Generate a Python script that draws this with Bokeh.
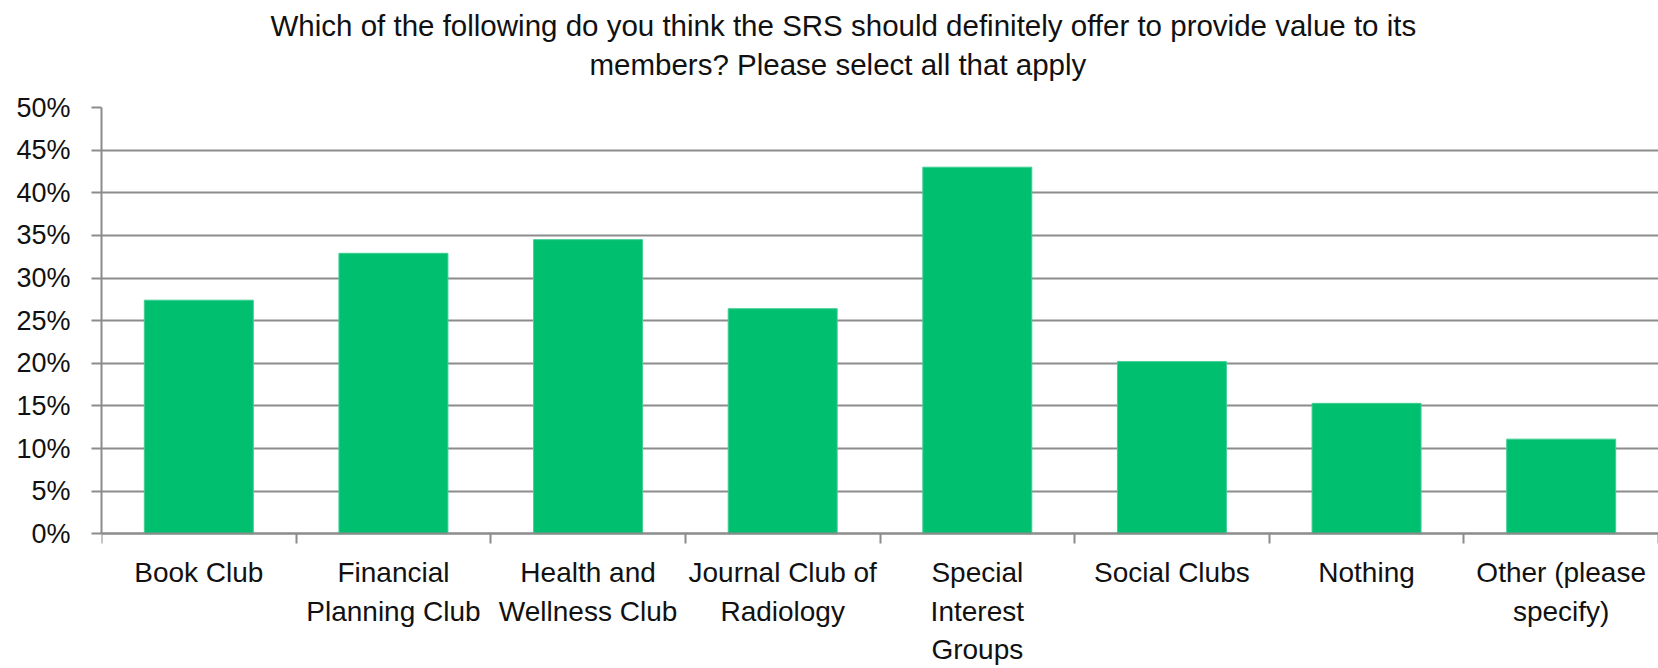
from bokeh.plotting import figure
from bokeh.models import Range1d, FixedTicker, NumeralTickFormatter, Title, ColumnDataSource
from bokeh.embed import file_html
from bokeh.resources import INLINE

categories = ["Book Club", "Financial Planning Club", "Health and Wellness Club",
              "Journal Club of Radiology", "Special Interest Groups", "Social Clubs",
              "Nothing", "Other (please specify)"]
tick_labels = ["Book Club", "Financial\nPlanning Club", "Health and\nWellness Club",
               "Journal Club of\nRadiology", "Special\nInterest\nGroups", "Social Clubs",
               "Nothing", "Other (please\nspecify)"]
values = [0.274, 0.329, 0.345, 0.264, 0.430, 0.202, 0.153, 0.111]
y_ticks = [0.0, 0.05, 0.10, 0.15, 0.20, 0.25, 0.30, 0.35, 0.40, 0.45, 0.50]
title_lines = ["Which of the following do you think the SRS should definitely offer to provide value to its",
               "members?  Please select all that apply"]

FONT = "Liberation Sans"
GRAY = "#8c8c8c"
GREEN = "#00BF6F"
TXT = "#111111"

n = len(categories)
centers = [i + 0.5 for i in range(n)]
bounds = [float(i) for i in range(n + 1)]

src = ColumnDataSource(dict(x=centers, top=values))

# frame bottom extends below zero so the category labels have room
p = figure(width=1658, height=668, output_backend="svg", toolbar_location=None,
           x_range=Range1d(0, n), y_range=Range1d(-0.158, y_ticks[-1]),
           min_border_left=101, min_border_right=0, min_border_top=107, min_border_bottom=0)
p.outline_line_color = None
p.background_fill_color = "white"
p.border_fill_color = "white"

p.vbar(x="x", top="top", bottom=0, width=0.56, source=src,
       fill_color=GREEN, line_color="#40CF94", line_width=1)

# y axis
p.yaxis.ticker = FixedTicker(ticks=y_ticks)
p.yaxis.bounds = (y_ticks[0], y_ticks[-1])
p.yaxis.formatter = NumeralTickFormatter(format="0%")
p.yaxis.axis_line_color = GRAY
p.yaxis.axis_line_width = 2
p.yaxis.major_tick_line_color = GRAY
p.yaxis.major_tick_line_width = 2
p.yaxis.major_tick_out = 10
p.yaxis.major_tick_in = 0
p.yaxis.minor_tick_line_color = None
p.yaxis.major_label_standoff = 21
p.yaxis.major_label_text_font = FONT
p.yaxis.major_label_text_font_size = "27px"
p.yaxis.major_label_text_color = TXT

# x axis at zero: boundary ticks (minor) and category labels (major)
xa = p.xaxis[0]
xa.fixed_location = 0
xa.ticker = FixedTicker(ticks=centers, minor_ticks=bounds)
xa.major_label_overrides = {c: t for c, t in zip(centers, tick_labels)}
xa.major_tick_line_color = None
xa.major_tick_out = 10
xa.major_tick_in = 0
xa.minor_tick_line_color = GRAY
xa.minor_tick_line_width = 2
xa.minor_tick_out = 10
xa.minor_tick_in = 0
xa.axis_line_color = GRAY
xa.axis_line_width = 2
xa.major_label_standoff = 13
xa.major_label_text_font = FONT
xa.major_label_text_font_size = "28px"
xa.major_label_text_color = TXT
xa.major_label_text_line_height = 1.25

p.xgrid.grid_line_color = None
p.ygrid.ticker = FixedTicker(ticks=y_ticks)
p.ygrid.grid_line_color = GRAY
p.ygrid.grid_line_width = 2

spacer = Title(text=" ", text_font_size="2px", standoff=23)
t2 = Title(text=title_lines[1], align="left", offset=488, vertical_align="bottom",
           text_font=FONT, text_font_size="29.5px", text_font_style="normal",
           text_color=TXT, standoff=0)
t1 = Title(text=title_lines[0], align="left", offset=169, vertical_align="bottom",
           text_font=FONT, text_font_size="29.5px", text_font_style="normal",
           text_color=TXT, standoff=7)
p.add_layout(spacer, "above")
p.add_layout(t2, "above")
p.add_layout(t1, "above")

open("out.html", "w").write(file_html(p, INLINE))
